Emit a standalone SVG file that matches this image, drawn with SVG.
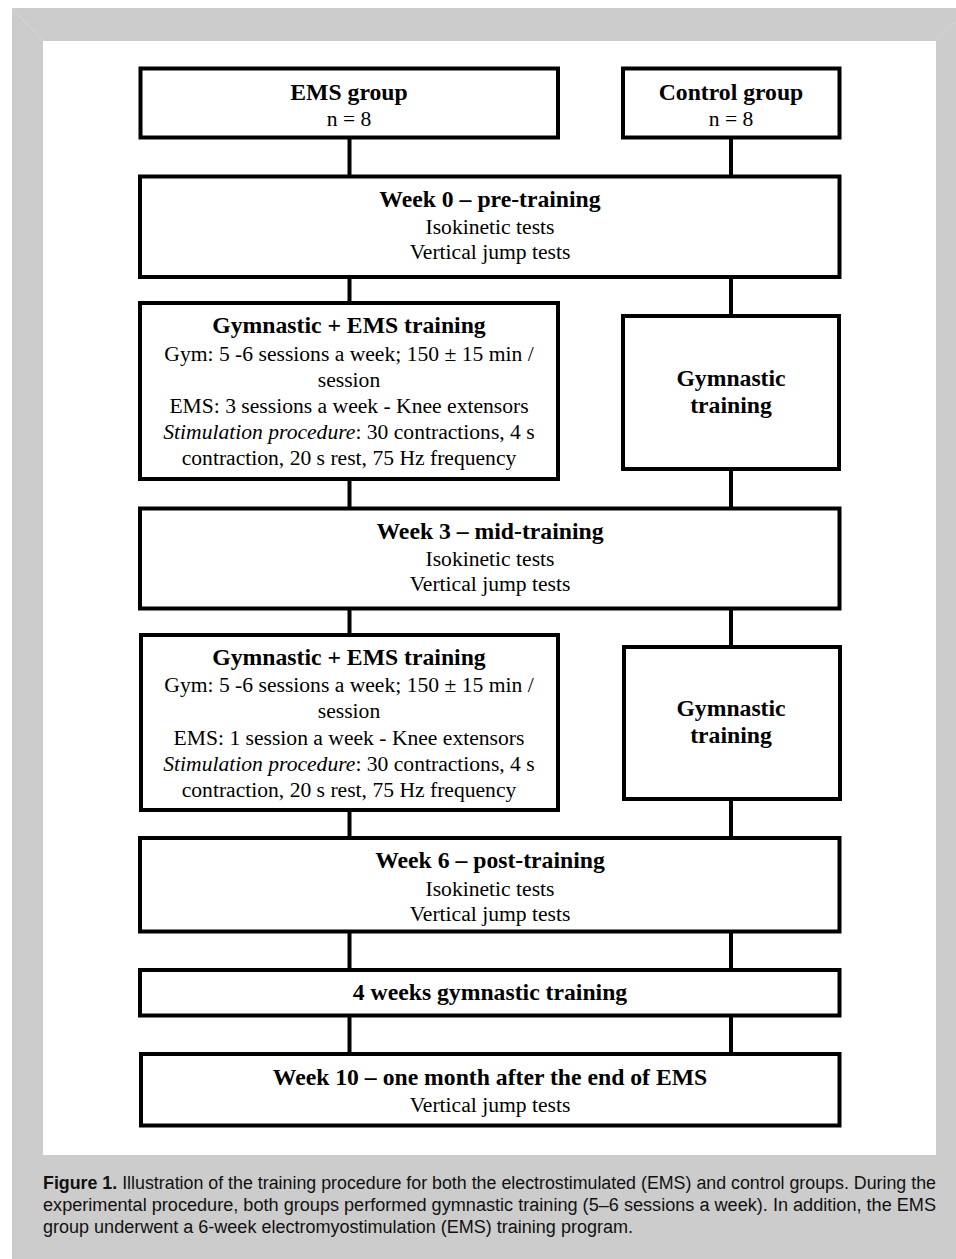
<svg xmlns="http://www.w3.org/2000/svg" width="956" height="1259" viewBox="0 0 956 1259">
<style>
.box{fill:#fff;stroke:#000;stroke-width:4}
.con{stroke:#000;stroke-width:4;fill:none}
.t{font-family:"Liberation Serif","Times New Roman",serif;text-anchor:middle;fill:#000}
.b{font-weight:bold;font-size:23.7px}
.r{font-size:21.6px}
.cap{font-family:"Liberation Sans",Arial,Helvetica,sans-serif;font-size:18px;fill:#111}
</style>
<rect x="0" y="0" width="956" height="1259" fill="#fff"/>
<rect x="12" y="8" width="944" height="1251" fill="#cccccc"/>
<line x1="12" y1="8" x2="43" y2="41" stroke="#d6d6d6" stroke-width="1"/>
<line x1="956" y1="21" x2="936" y2="41" stroke="#d6d6d6" stroke-width="1"/>
<rect x="43" y="41" width="893" height="1114" fill="#fff"/>

<g id="connectors">
<line class="con" x1="349.5" y1="137.5" x2="349.5" y2="176.5"/>
<line class="con" x1="731" y1="137.5" x2="731" y2="176.5"/>
<line class="con" x1="349.5" y1="277" x2="349.5" y2="303"/>
<line class="con" x1="731" y1="277" x2="731" y2="316"/>
<line class="con" x1="349.5" y1="479" x2="349.5" y2="508.5"/>
<line class="con" x1="731" y1="469" x2="731" y2="508.5"/>
<line class="con" x1="349.5" y1="608.5" x2="349.5" y2="635"/>
<line class="con" x1="731" y1="608.5" x2="731" y2="647"/>
<line class="con" x1="349.5" y1="810" x2="349.5" y2="838"/>
<line class="con" x1="731" y1="799" x2="731" y2="838"/>
<line class="con" x1="349.5" y1="931.5" x2="349.5" y2="970"/>
<line class="con" x1="731" y1="931.5" x2="731" y2="970"/>
<line class="con" x1="349.5" y1="1015.5" x2="349.5" y2="1054"/>
<line class="con" x1="731" y1="1015.5" x2="731" y2="1054"/>
</g>

<g id="ems-group">
<rect class="box" x="140.5" y="68.5" width="417.5" height="69"/>
<text class="t b" x="349" y="100">EMS group</text>
<text class="t r" x="349" y="126">n = 8</text>
</g>

<g id="control-group">
<rect class="box" x="623" y="68.5" width="216.5" height="69"/>
<text class="t b" x="731" y="100">Control group</text>
<text class="t r" x="731" y="126">n = 8</text>
</g>

<g id="week0">
<rect class="box" x="140" y="176.5" width="699.5" height="100.5"/>
<text class="t b" x="490" y="206.5">Week 0 – pre-training</text>
<text class="t r" x="490" y="233.5">Isokinetic tests</text>
<text class="t r" x="490" y="258.5">Vertical jump tests</text>
</g>

<g id="ems-training-1">
<rect class="box" x="140" y="303" width="418" height="176"/>
<text class="t b" x="349" y="333">Gymnastic + EMS training</text>
<text class="t r" x="349" y="361">Gym: 5 -6 sessions a week; 150 ± 15 min /</text>
<text class="t r" x="349" y="387">session</text>
<text class="t r" x="349" y="413">EMS: 3 sessions a week - Knee extensors</text>
<text class="t r" x="349" y="439"><tspan font-style="italic">Stimulation procedure</tspan>: 30 contractions, 4 s</text>
<text class="t r" x="349" y="465">contraction, 20 s rest, 75 Hz frequency</text>
</g>

<g id="gym-training-1">
<rect class="box" x="623" y="316" width="216" height="153"/>
<text class="t b" x="731" y="386">Gymnastic</text>
<text class="t b" x="731" y="413">training</text>
</g>

<g id="week3">
<rect class="box" x="140" y="508.5" width="699.5" height="100"/>
<text class="t b" x="490" y="538.5">Week 3 – mid-training</text>
<text class="t r" x="490" y="566">Isokinetic tests</text>
<text class="t r" x="490" y="590.5">Vertical jump tests</text>
</g>

<g id="ems-training-2">
<rect class="box" x="141" y="635" width="417" height="175"/>
<text class="t b" x="349" y="665">Gymnastic + EMS training</text>
<text class="t r" x="349" y="692">Gym: 5 -6 sessions a week; 150 ± 15 min /</text>
<text class="t r" x="349" y="718">session</text>
<text class="t r" x="349" y="745">EMS: 1 session a week - Knee extensors</text>
<text class="t r" x="349" y="771"><tspan font-style="italic">Stimulation procedure</tspan>: 30 contractions, 4 s</text>
<text class="t r" x="349" y="797">contraction, 20 s rest, 75 Hz frequency</text>
</g>

<g id="gym-training-2">
<rect class="box" x="624" y="647" width="216" height="152"/>
<text class="t b" x="731" y="716">Gymnastic</text>
<text class="t b" x="731" y="743">training</text>
</g>

<g id="week6">
<rect class="box" x="140" y="838" width="699.5" height="93.5"/>
<text class="t b" x="490" y="868">Week 6 – post-training</text>
<text class="t r" x="490" y="896">Isokinetic tests</text>
<text class="t r" x="490" y="920.5">Vertical jump tests</text>
</g>

<g id="four-weeks">
<rect class="box" x="140" y="970" width="699.5" height="45.5"/>
<text class="t b" x="490" y="1000">4 weeks gymnastic training</text>
</g>

<g id="week10">
<rect class="box" x="141" y="1054" width="698.5" height="71.5"/>
<text class="t b" x="490" y="1085">Week 10 – one month after the end of EMS</text>
<text class="t r" x="490" y="1111.5">Vertical jump tests</text>
</g>

<g id="caption">
<text class="cap" x="43" y="1189" textLength="893" lengthAdjust="spacingAndGlyphs"><tspan font-weight="bold">Figure 1.</tspan> Illustration of the training procedure for both the electrostimulated (EMS) and control groups. During the</text>
<text class="cap" x="43" y="1211" textLength="893" lengthAdjust="spacingAndGlyphs">experimental procedure, both groups performed gymnastic training (5–6 sessions a week). In addition, the EMS</text>
<text class="cap" x="43" y="1233" textLength="590" lengthAdjust="spacingAndGlyphs">group underwent a 6-week electromyostimulation (EMS) training program.</text>
</g>
</svg>
